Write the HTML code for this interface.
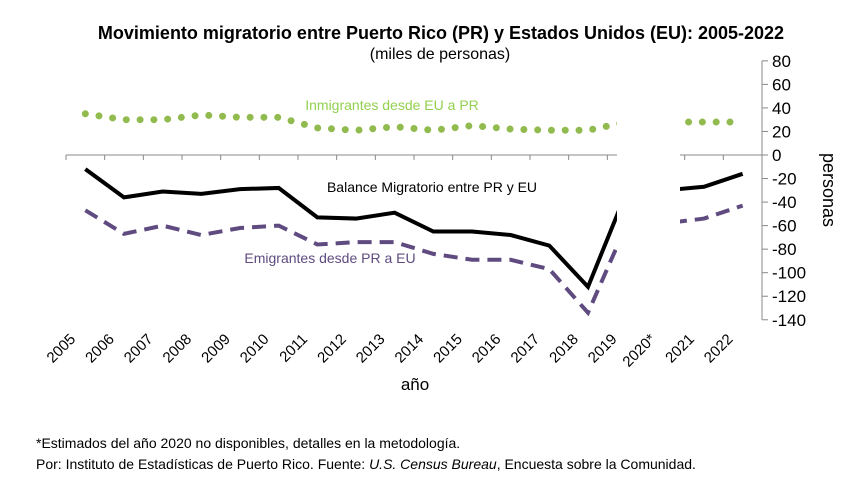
<!DOCTYPE html>
<html><head><meta charset="utf-8"><style>
body{margin:0;background:#fff;}
svg{display:block;font-family:"Liberation Sans",sans-serif;}
</style></head><body>
<svg id="chart" width="850" height="493">
<text x="441" y="39" text-anchor="middle" font-size="18" font-weight="bold">Movimiento migratorio entre Puerto Rico (PR) y Estados Unidos (EU): 2005-2022</text>
<text x="440" y="59" text-anchor="middle" font-size="16">(miles de personas)</text>
<g id="plot"></g>
<text x="415" y="390" text-anchor="middle" font-size="17">año</text>
<text x="823" y="190" text-anchor="middle" font-size="18" transform="rotate(90 823 190)">personas</text>
<text x="36" y="448" font-size="14">*Estimados del año 2020 no disponibles, detalles en la metodología.</text>
<text x="36" y="469" font-size="14">Por: Instituto de Estadísticas de Puerto Rico. Fuente: <tspan font-style="italic">U.S. Census Bureau</tspan>, Encuesta sobre la Comunidad.</text>
</svg>
<script>
const years=["2005","2006","2007","2008","2009","2010","2011","2012","2013","2014","2015","2016","2017","2018","2019","2020*","2021","2022"];
const immigrants=[35,30,30,34,32,32,23,21,24,21,25,22,21,21,28,28,28,28];
const balance=[-12,-36,-31,-33,-29,-28,-53,-54,-49,-65,-65,-68,-77,-112,-31,-30,-27,-16];
const emigrants=[-47,-67,-60,-68,-62,-60,-76,-74,-74,-84,-89,-89,-97,-134,-59,-58,-54,-43];
const yTicks=[80,60,40,20,0,-20,-40,-60,-80,-100,-120,-140];

const NS="http://www.w3.org/2000/svg";
const g=document.getElementById('plot');
const x0=66,x1=762,step=(x1-x0)/years.length;
const xc=i=>x0+step*(i+0.5);
const y=v=>155-v*1.177;
function mk(t,a){const e=document.createElementNS(NS,t);for(const k in a)e.setAttribute(k,a[k]);g.appendChild(e);return e;}

let ax=mk('line',{x1:x1,y1:y(80),x2:x1,y2:y(-140),stroke:'#888','stroke-width':1});


yTicks.forEach(v=>{
  const tk=mk('line',{x1:x1,y1:y(v),x2:x1+6,y2:y(v),stroke:'#888'});
  
  
  const t=mk('text',{x:x1+10,y:y(v)+6,'font-size':17});
  t.textContent=v;
  
  
});
let xa=mk('line',{x1:x0,y1:y(0),x2:x1,y2:y(0),stroke:'#888'});


for(let i=0;i<=years.length;i++){
  const tk=mk('line',{x1:x0+step*i,y1:y(0),x2:x0+step*i,y2:y(0)+5,stroke:'#888'});
  
  
}
years.forEach((yr,i)=>{
  const lx=xc(i)-9,ly=340;
  const t=mk('text',{x:lx,y:ly,'font-size':15,'text-anchor':'end',transform:`rotate(-45 ${lx} ${ly})`});
  t.textContent=yr;
  
  
});
function series(vals,attrs,name){
  const p=mk('polyline',Object.assign({points:vals.map((v,i)=>xc(i)+','+y(v)).join(' '),fill:'none'},attrs));
  
  
}
series(immigrants,{stroke:'#92bb4f','stroke-width':7,'stroke-linecap':'round','stroke-dasharray':'0 13.8'},'immigrants-line');
series(emigrants,{stroke:'#5f4b7f','stroke-width':4,'stroke-dasharray':'14 8'},'emigrants-line');
series(balance,{stroke:'#000','stroke-width':4,'stroke-linejoin':'miter'},'balance-line');
const gap=mk('rect',{x:617,y:60,width:63,height:270,fill:'#fff'});



function lbl(txt,x,yy,col,name){const t=mk('text',{x:x,y:yy,'font-size':14,fill:col,'text-anchor':'middle'});t.textContent=txt;
  
  }
lbl('Inmigrantes desde  EU a PR',392,110,'#92d050','immigrants-label');
lbl('Balance Migratorio entre PR y EU',432,192,'#000','balance-label');
lbl('Emigrantes desde PR a EU',330,263,'#5f4b7f','emigrants-label');
</script>
</body></html>
